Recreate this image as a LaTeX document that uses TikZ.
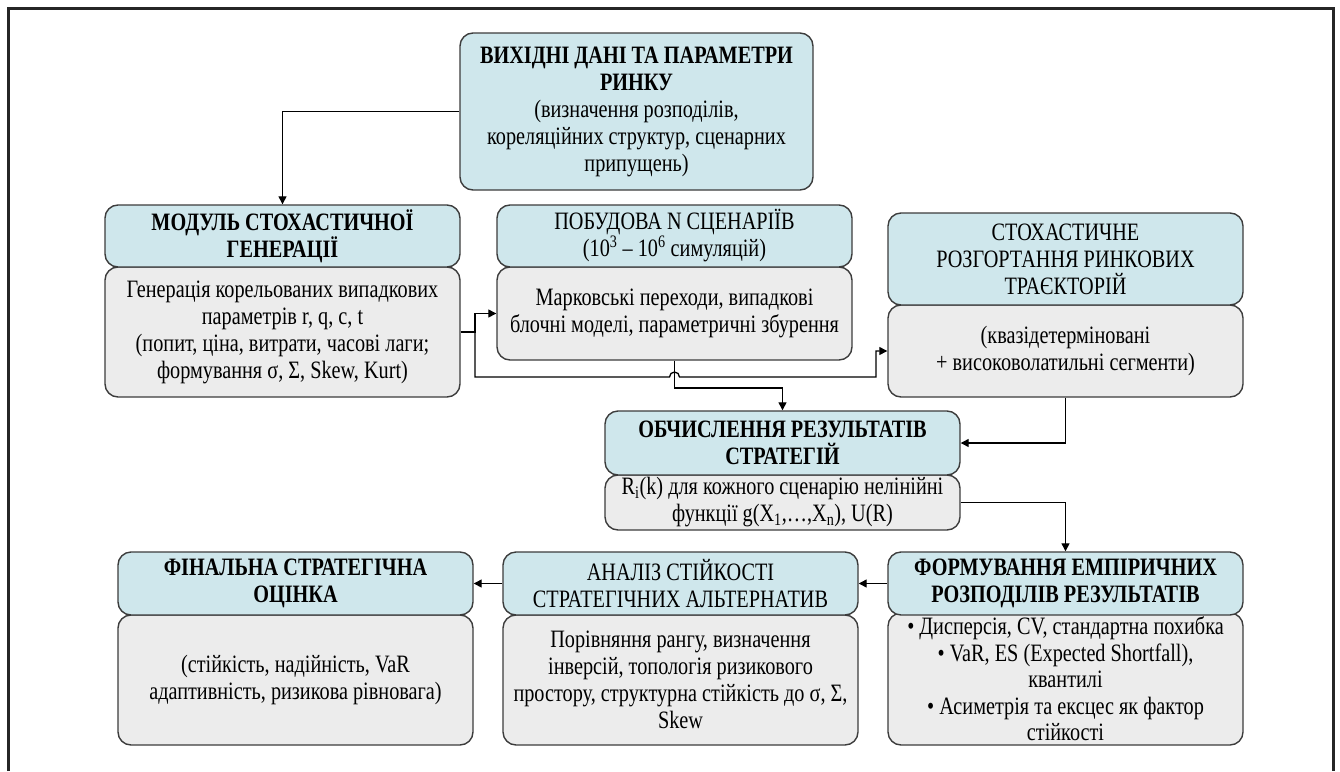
\documentclass[tikz,border=0pt]{standalone}
\usepackage{fontspec}
\setmainfont[FakeStretch=0.81]{Liberation Serif}
\usetikzlibrary{arrows.meta}

\definecolor{headblue}{RGB}{207,231,236}
\definecolor{bodygrey}{RGB}{236,236,236}
\definecolor{edgegrey}{RGB}{60,60,60}

\begin{document}
\begin{tikzpicture}[x=1pt, y=-1pt,
  every node/.style = {shape=rectangle, rounded corners=13pt, draw=edgegrey, line width=1.4pt,
    align=center, minimum width=355pt, inner xsep=2pt, inner ysep=2pt,
    font=\fontsize{25}{27}\selectfont},
  head/.style = {fill=headblue},
  headbold/.style = {fill=headblue, font=\fontsize{25}{27}\selectfont\bfseries},
  body/.style = {fill=bodygrey},
  line/.style = {line width=1.3pt, -{Triangle[length=8pt, width=8pt]}}]

  \useasboundingbox (0,0) rectangle (1340,771);
  \draw[line width=3pt, black!85] (8,771) -- (8,8) -- (1333,8) -- (1333,771);

  \node[headbold, minimum width=353pt, minimum height=157pt] (inp) at (636.5,111.5)
    {ВИХІДНІ ДАНІ ТА ПАРАМЕТРИ\\РИНКУ\\\normalfont(визначення розподілів,\\\normalfont кореляційних структур, сценарних\\\normalfont припущень)};

  \node[body, minimum height=130pt] (genb) at (282.5,332) {Генерація корельованих випадкових\\параметрів r, q, c, t\\(попит, ціна, витрати, часові лаги;\\формування σ, Σ, Skew, Kurt)};
  \node[headbold, minimum height=62pt] (genh) at (282.5,236) {МОДУЛЬ СТОХАСТИЧНОЇ\\ГЕНЕРАЦІЇ};

  \node[body, minimum height=93pt] (scnb) at (674.5,313.5) {Марковські переходи, випадкові\\блочні моделі, параметричні збурення};
  \node[head, minimum height=62pt] (scnh) at (674.5,236) {ПОБУДОВА N СЦЕНАРІЇВ\\(10\textsuperscript{3} – 10\textsuperscript{6} симуляцій)};

  \node[body, minimum height=92pt] (trjb) at (1065.5,351) {(квазідетерміновані\\+ високоволатильні сегменти)};
  \node[head, minimum height=92pt] (trjh) at (1065.5,259) {СТОХАСТИЧНЕ\\РОЗГОРТАННЯ РИНКОВИХ\\ТРАЄКТОРІЙ};

  \node[body, minimum height=55pt, inner ysep=0pt] (calcb) at (782.5,502.5) {R\textsubscript{i}(k) для кожного сценарію нелінійні\\функції g(X\textsubscript{1},…,X\textsubscript{n}), U(R)};
  \node[headbold, minimum height=64pt] (calch) at (782.5,443) {ОБЧИСЛЕННЯ РЕЗУЛЬТАТІВ\\СТРАТЕГІЙ};

  \node[body, minimum height=132pt, inner ysep=0pt, font=\fontsize{25}{26.5}\selectfont] (empirb) at (1065.5,679)
    {• Дисперсія, CV, стандартна похибка\\• VaR, ES (Expected Shortfall),\\квантилі\\• Асиметрія та ексцес як фактор\\стійкості};
  \node[headbold, minimum height=63pt] (empirh) at (1065.5,583.5) {ФОРМУВАННЯ ЕМПІРИЧНИХ\\РОЗПОДІЛІВ РЕЗУЛЬТАТІВ};

  \node[body, minimum height=130pt] (anlb) at (680.5,680) {Порівняння рангу, визначення\\інверсій, топологія ризикового\\простору, структурна стійкість до σ, Σ,\\Skew};
  \node[head, minimum height=63pt] (anlh) at (680.5,583.5) {АНАЛІЗ СТІЙКОСТІ\\СТРАТЕГІЧНИХ АЛЬТЕРНАТИВ};

  \node[body, minimum height=130pt] (finb) at (295.5,680) {(стійкість, надійність, VaR\\адаптивність, ризикова рівновага)};
  \node[headbold, minimum height=63pt] (finh) at (295.5,583.5) {ФІНАЛЬНА СТРАТЕГІЧНА\\ОЦІНКА};

  % connectors
  \coordinate (split) at (475,332);
  \draw[line] (inp.west) -| (genh.north);
  \draw[line] (genb.east) -- (split) |- (scnb.west);
  \draw[line] (split) |- (669.5,377) arc[start angle=180, end angle=360, radius=5]
    -- (876,377) |- (trjb.west);
  \draw[line] (scnb.south) |- (782.5,388) -- (calch.north);
  \draw[line] (trjb.south) |- (calch.east);
  \draw[line] (calcb.east) -| (empirh.north);
  \draw[line] (empirh.west) -- (anlh.east);
  \draw[line] (anlh.west) -- (finh.east);
\end{tikzpicture}
\end{document}
